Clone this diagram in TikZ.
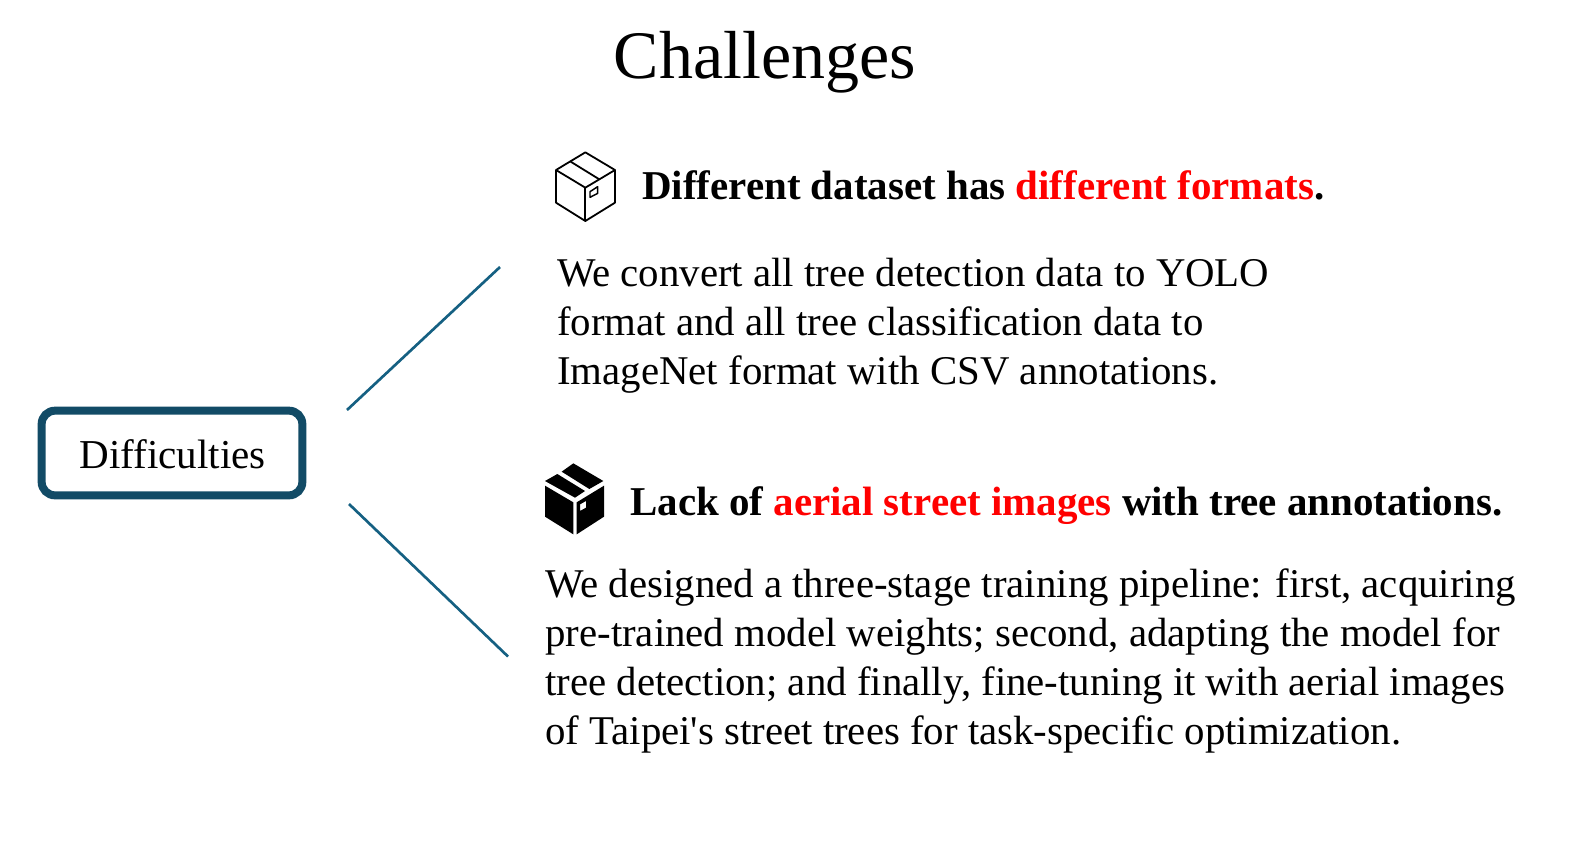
\documentclass[tikz,border=0pt]{standalone}
\usepackage{fontspec}
\setmainfont{Liberation Serif}
\newfontfamily\plainserif{Liberation Serif}
\definecolor{boxblue}{HTML}{124B66}
\definecolor{linkblue}{HTML}{156082}
\tikzset{
  body/.style={anchor=base west,align=left,inner sep=0pt,font=\fontsize{30.62}{36.75}\plainserif},
  head/.style={anchor=base west,inner sep=0pt,font=\fontsize{30.72}{36}\selectfont\bfseries},
  link/.style={color=linkblue,line width=2pt},
  ink/.style={line width=1.35pt,line join=round}
}
\begin{document}
\begin{tikzpicture}[x=0.75pt,y=-0.75pt]
  \useasboundingbox (0,0) rectangle (1594,840);
  \node[anchor=base,inner sep=0pt,font=\fontsize{51}{60}\selectfont] (title) at (765,78) {Challenges};
  % box and links
  \node[draw=boxblue,line width=6pt,rounded corners=10pt,minimum width=195.5pt,minimum height=63.5pt,inner sep=0pt] (difficulties) at (172,453) {};
  \node[inner sep=0pt,font=\fontsize{30.8}{36}\selectfont] (difficultiestext) at (172.5,454) {Difficulties};
  \coordinate (linkaS) at (347,410);
  \coordinate (linkaE) at (500,267);
  \coordinate (linkbS) at (349,504);
  \coordinate (linkbE) at (508,656.5);
  \draw[link] (linkaS) -- (linkaE);
  \draw[link] (linkbS) -- (linkbE);
  % outlined package
  \begin{scope}[shift={(530,140)},x=0.25pt,y=-0.25pt]
    \draw[ink] (166,37) -- (255,90) -- (255,188) -- (166,243) -- (78,188) -- (78,90) -- cycle;
    \draw[ink] (78,90) -- (166,143) -- (255,90);
    \draw[ink] (166,143) -- (166,243);
    \draw[ink] (122,65) -- (208,118);
    \draw[ink,line width=1.1pt] (180,155) -- (203,140) -- (203,160) -- (180,172) -- cycle;
  \end{scope}
  % filled package
  \begin{scope}[shift={(520,445)},x=0.25pt,y=-0.25pt]
    \fill (160,55) -- (250,108) -- (208,132) -- (125,80) -- cycle;
    \fill (112,87) -- (195,138) -- (165,158) -- (75,108) -- cycle;
    \fill (75,122) -- (160,172) -- (160,268) -- (75,215) -- cycle;
    \fill[even odd rule] (170,172) -- (252,122) -- (252,215) -- (170,268) -- cycle
      (180,178) -- (198,168) -- (198,188) -- (180,198) -- cycle;
  \end{scope}
  % texts
  \node[head] (heada) at (642,199) {Different dataset has \textcolor{red}{different formats}.};
  \node[body] (bodya) at (557,384) {We convert all tree detection data to YOLO\\format and all tree classification data to\\ImageNet format with CSV annotations.};
  \node[head] (headb) at (630,515) {Lack of \textcolor{red}{aerial street images} with tree annotations.};
  \node[body] (bodyb) at (545,744) {We designed a three-stage training pipeline: first, acquiring\\pre-trained model weights; second, adapting the model for\\tree detection; and finally, fine-tuning it with aerial images\\of Taipei's street trees for task-specific optimization.};
\end{tikzpicture}
\end{document}
